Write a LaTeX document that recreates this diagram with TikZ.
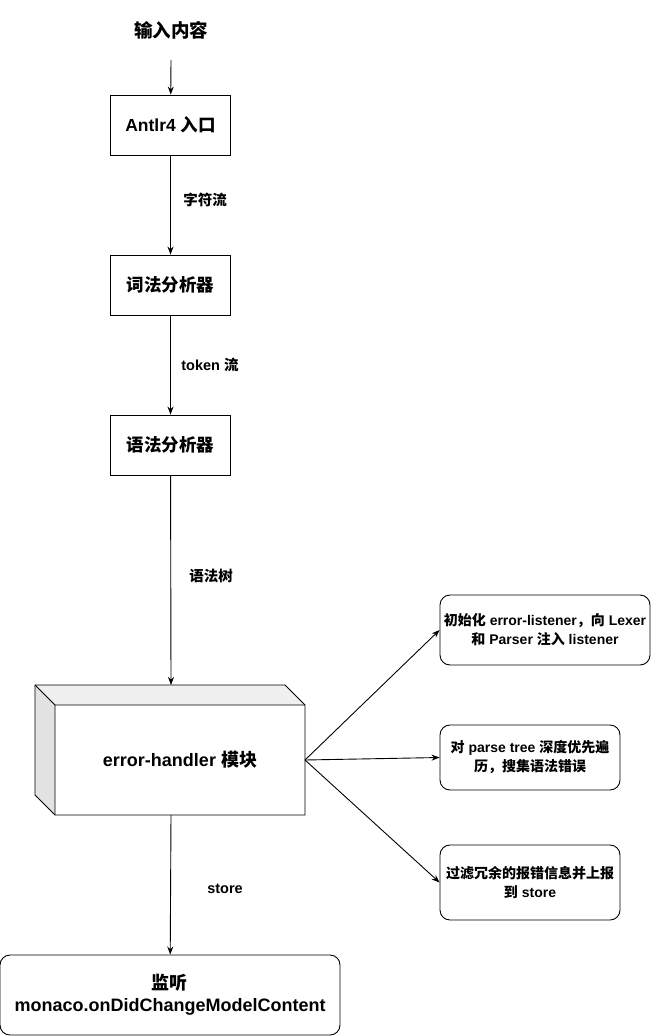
\documentclass[tikz,border=0pt]{standalone}
\usepackage{fontspec}
\setmainfont{Liberation Sans}
\newfontfamily\cjk{Noto Sans CJK SC}
\usetikzlibrary{arrows.meta,positioning}
\definecolor{topc}{RGB}{240,240,240}
\definecolor{sidec}{RGB}{226,226,226}
\tikzset{
  stagebox/.style={draw,line width=0.9pt,fill=white,minimum width=120pt,minimum height=60pt,
    font=\fontsize{17.5}{20}\selectfont\bfseries},
  notebox/.style={draw,line width=0.9pt,rounded corners=10pt,align=center,
    font=\fontsize{14}{19}\selectfont\bfseries},
  flowlabel/.style={font=\fontsize{14.5}{16}\selectfont\bfseries},
}
\begin{document}
\begin{tikzpicture}[x=1pt,y=-1pt,>={Stealth[length=8pt,width=6pt]},line width=0.9pt]
\useasboundingbox (0,0) rectangle (651,1036);
% main chain
\node[font=\fontsize{18.5}{20}\selectfont\bfseries] (input) at (171,30) {\cjk 输入内容};
\node[stagebox] (antlr) at (170.5,125) {Antlr4 {\cjk 入口}};
\node[stagebox] (lexer) at (170.5,285) {\cjk 词法分析器};
\node[stagebox] (parser) at (170.5,445) {\cjk 语法分析器};
\coordinate (intop) at (171,60);
\draw[->] (intop) -- (antlr);
\draw[->] (antlr) -- (lexer);
\node[flowlabel] (lab1) at (205,200) {\cjk 字符流};
\draw[->] (lexer) -- (parser);
\node[flowlabel] (lab2) at (210,365) {token {\cjk 流}};
% error-handler cube
\fill[topc] (35,685) -- (285,685) -- (305,705) -- (55,705) -- cycle;
\fill[sidec] (35,685) -- (55,705) -- (55,815) -- (35,795) -- cycle;
\draw (35,685) -- (285,685) -- (305,705) -- (305,815) -- (55,815) -- (35,795) -- cycle;
\draw (35,685) -- (55,705) -- (305,705) (55,705) -- (55,815);
\node[font=\fontsize{18}{20}\selectfont\bfseries,minimum width=250pt,minimum height=110pt] (handler) at (180,760) {error-handler {\cjk 模块}};
\coordinate (htop) at (171,685);
\draw[->] (parser) -- (htop);
\node[flowlabel] (lab3) at (211,576) {\cjk 语法树};
% notes
\node[notebox,minimum width=210pt,minimum height=70pt] (init) at (545,630)
  {{\cjk 初始化} error-listener{\cjk ，向} Lexer\\{\cjk 和} Parser {\cjk 注入} listener};
\node[notebox,minimum width=180pt,minimum height=65pt] (walk) at (530,757.5)
  {{\cjk 对} parse tree {\cjk 深度优先遍}\\{\cjk 历，搜集语法错误}};
\node[notebox,minimum width=180pt,minimum height=75pt] (filter) at (530,882.5)
  {{\cjk 过滤冗余的报错信息并上报}\\{\cjk 到} store};
\coordinate (hright) at (305,760);
\draw[->] (hright) -- (init.west);
\draw[->] (hright) -- (walk.west);
\draw[->] (hright) -- (filter.west);
% listener
\node[notebox,minimum width=340pt,minimum height=80pt,font=\fontsize{18}{22}\selectfont\bfseries] (listen) at (170,995)
  {{\cjk 监听}\\monaco.onDidChangeModelContent};
\coordinate (hbot) at (171,815);
\draw[->] (hbot) -- (listen);
\node[flowlabel] (lab4) at (225,889) {store};
\end{tikzpicture}
\end{document}
